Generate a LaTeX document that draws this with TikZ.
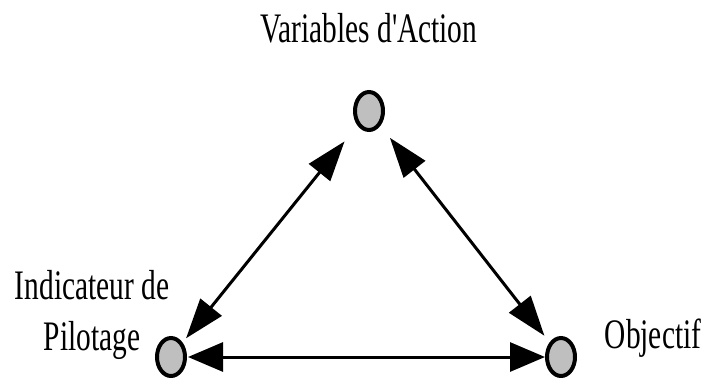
\documentclass[tikz,border=0pt]{standalone}
\usepackage{fontspec}
\setmainfont{Liberation Serif}
\usetikzlibrary{arrows.meta,shapes.geometric}
\begin{document}
\begin{tikzpicture}[x=1pt,y=-1pt,
  dot/.style={ellipse, draw, line width=4pt, fill=black!25, minimum width=28pt, minimum height=38pt, inner sep=0pt},
  lbl/.style={font=\fontsize{42}{51}\selectfont, inner sep=0pt, anchor=base},
  diaglink/.style={line width=3pt, {Triangle[length=40pt,width=27pt]}-{Triangle[length=40pt,width=27pt]}},
  flatlink/.style={line width=3pt, {Triangle[length=35pt,width=29pt]}-{Triangle[length=35pt,width=29pt]}}
]
\useasboundingbox (0,0) rectangle (703,378);
\node[dot] (T) at (369,111) {};
\node[dot] (L) at (171,357) {};
\node[dot] (R) at (561,357) {};
\node[lbl] (tT) at (369,42) {\scalebox{0.7}[1]{Variables d\textquotesingle Action}};
\node[lbl] (tL1) at (92,299) {\scalebox{0.7}[1]{Indicateur de}};
\node[lbl] (tL2) at (92,350) {\scalebox{0.7}[1]{Pilotage}};
\node[lbl] (tR) at (653,348) {\scalebox{0.7}[1]{Objectif}};
\draw[diaglink, shorten <=39pt, shorten >=24pt] (T.center) -- (L.center);
\draw[diaglink, shorten <=34pt, shorten >=27pt] (T.center) -- (R.center);
\draw[flatlink, shorten <=17pt, shorten >=16pt] (L.center) -- (R.center);
\end{tikzpicture}
\end{document}
